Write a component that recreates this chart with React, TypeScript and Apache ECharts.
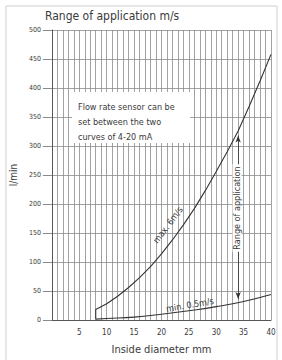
import React, { useEffect, useRef } from "react";
import * as echarts from "echarts";

const diameterMax = [8, 8, 10, 12, 14, 16, 18, 20, 22, 24, 26, 28, 30, 32, 34, 36, 38, 40];
const flowMax = [2, 18, 28, 41, 56, 73, 92, 114, 138, 164, 192, 223, 256, 290, 326, 368, 412, 458];
const diameterMin = [8, 10, 15, 20, 25, 30, 35, 40];
const flowMin = [1.5, 2.5, 5, 10, 16, 23, 32, 44];
const xTickLabels = [5, 10, 15, 20, 25, 30, 35, 40];
const rangeArrow = { x: 34, from: 36, to: 318 };

const FONT = "'DejaVu Sans Condensed', 'DejaVu Sans', sans-serif";
const TXT = "#3a3a3a";
const GRID = "#8a8a8a";

export default function App() {
  const ref = useRef<HTMLDivElement>(null);
  useEffect(() => {
    const chart = echarts.init(ref.current!, null, { renderer: "svg" });
    chart.setOption({
      animation: false,
      backgroundColor: "#fff",
      grid: { left: 43, right: 11, top: 30, bottom: 35 },
      xAxis: {
        type: "value",
        min: 0,
        max: 40,
        interval: 1,
        name: "Inside diameter mm",
        nameLocation: "middle",
        nameGap: 24,
        nameTextStyle: { fontFamily: FONT, fontSize: 11, color: TXT },
        axisLine: { show: true, lineStyle: { color: "#555", width: 1 } },
        axisTick: { show: false },
        axisLabel: {
          fontFamily: FONT,
          fontSize: 8,
          color: TXT,
          margin: 8,
          formatter: (v: number) => (xTickLabels.indexOf(v) >= 0 ? String(v) : ""),
        },
        splitLine: { show: true, lineStyle: { color: GRID, width: 0.8 } },
      },
      yAxis: {
        type: "value",
        min: 0,
        max: 500,
        interval: 50,
        name: "l/min",
        nameLocation: "middle",
        nameGap: 31,
        nameTextStyle: { fontFamily: FONT, fontSize: 10, color: TXT },
        axisLine: { show: true, lineStyle: { color: "#555", width: 1 } },
        axisTick: { show: true, length: 9, lineStyle: { color: GRID } },
        axisLabel: { fontFamily: FONT, fontSize: 7, color: TXT, margin: 11 },
        splitLine: { show: true, lineStyle: { color: GRID, width: 0.8 } },
      },
      series: [
        {
          type: "line",
          z: 3,
          data: diameterMax.map((d, i) => [d, flowMax[i]]),
          showSymbol: false,
          lineStyle: { color: "#333", width: 1.1 },
          markLine: {
            silent: true,
            symbol: ["arrow", "arrow"],
            symbolSize: [4, 7],
            label: { show: false },
            lineStyle: { color: "#333", width: 0.8, type: "solid" },
            data: [[{ coord: [rangeArrow.x, rangeArrow.from] }, { coord: [rangeArrow.x, rangeArrow.to] }]],
          },
        },
        {
          type: "line",
          z: 3,
          data: diameterMin.map((d, i) => [d, flowMin[i]]),
          showSymbol: false,
          smooth: true,
          lineStyle: { color: "#333", width: 1.1 },
        },
      ],
      graphic: [
        { type: "rect", shape: { x: 6, y: 6, width: 271, height: 380 }, style: { fill: "none", stroke: "#cfcfcf", lineWidth: 1 }, z: 10 },
        {
          type: "text",
          left: 45,
          top: 10,
          style: { text: "Range of application m/s", fontFamily: FONT, fontSize: 12, fill: TXT },
        },
        { type: "rect", shape: { x: 72, y: 92, width: 118, height: 51 }, style: { fill: "#fff" }, z: 50 },
        {
          type: "text",
          x: 78,
          y: 99,
          z: 51,
          style: {
            text: "Flow rate sensor can be\nset between the two\ncurves of 4-20 mA",
            fontFamily: FONT,
            fontSize: 9,
            lineHeight: 15,
            fill: TXT,
          },
        },
        {
          type: "text",
          x: 237,
          y: 208,
          rotation: Math.PI / 2,
          z: 51,
          style: {
            text: "Range of application",
            fontFamily: FONT,
            fontSize: 9,
            fill: TXT,
            align: "center",
            verticalAlign: "middle",
            backgroundColor: "#fff",
            padding: [0, 2],
          },
        },
        {
          type: "text",
          x: 168,
          y: 225,
          rotation: 0.93,
          z: 51,
          style: { text: "max. 6m/s", fontFamily: FONT, fontSize: 9, fill: TXT, align: "center", verticalAlign: "middle" },
        },
        {
          type: "text",
          x: 190,
          y: 305,
          rotation: 0.17,
          z: 51,
          style: { text: "min. 0.5m/s", fontFamily: FONT, fontSize: 9, fill: TXT, align: "center", verticalAlign: "middle" },
        },
      ],
    });
    return () => chart.dispose();
  }, []);
  return (
    <div
      ref={ref}
      style={{ position: "fixed", left: 0, top: 0, width: 282, height: 360, background: "#fff" }}
    />
  );
}
